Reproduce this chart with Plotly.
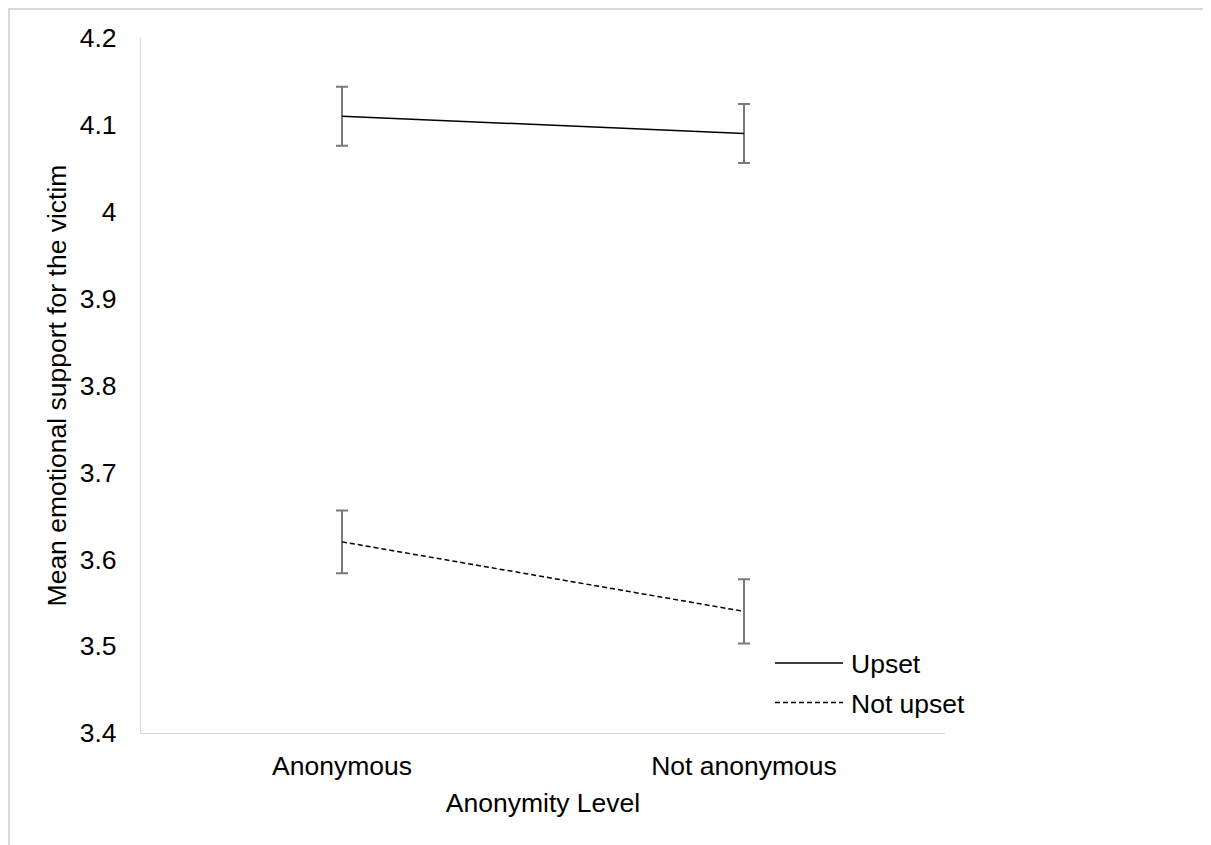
import plotly.graph_objects as go

# ---- data ----
categories = ["Anonymous", "Not anonymous"]
upset_means = [4.11, 4.09]
upset_err = [0.034, 0.034]
not_upset_means = [3.62, 3.54]
not_upset_err = [0.036, 0.037]
series_names = ["Upset", "Not upset"]
y_ticks = [3.4, 3.5, 3.6, 3.7, 3.8, 3.9, 4.0, 4.1, 4.2]

# page has an 8px body margin; figure sits at (8, 8)
OFF = 8
W, H = 1203, 837
ML, MR, MT = 133, 266, 30
MB = round(H - 725.5)
PW, PH = W - ML - MR, H - MT - MB


def px(x):
    return (x - OFF - ML) / PW


def py(y):
    return (H - MB - (y - OFF)) / PH


FONT = "Liberation Sans, Arial, sans-serif"
FS = 26.5
ERR_COLOR = "#7a7a7a"
BORDER = "#d9d9d9"

fig = go.Figure()
fig.add_trace(go.Scatter(
    x=categories, y=upset_means, mode="lines", name=series_names[0],
    line=dict(color="black", width=1.5),
    error_y=dict(type="data", array=upset_err, visible=True,
                 color=ERR_COLOR, thickness=2, width=6),
    showlegend=False,
))
fig.add_trace(go.Scatter(
    x=categories, y=not_upset_means, mode="lines", name=series_names[1],
    line=dict(color="black", width=1.5, dash="5px,3px"),
    error_y=dict(type="data", array=not_upset_err, visible=True,
                 color=ERR_COLOR, thickness=2, width=6),
    showlegend=False,
))

top_y, bot_y = py(9), py(850)
shapes = [
    # outer chart border (top, left, right)
    dict(type="line", xref="paper", yref="paper", layer="below",
         x0=px(8), x1=px(1211), y0=top_y, y1=top_y,
         line=dict(color=BORDER, width=2)),
    dict(type="line", xref="paper", yref="paper", layer="below",
         x0=px(9), x1=px(9), y0=top_y, y1=bot_y,
         line=dict(color=BORDER, width=2)),
    dict(type="line", xref="paper", yref="paper", layer="below",
         x0=px(1210), x1=px(1210), y0=top_y, y1=bot_y,
         line=dict(color=BORDER, width=2)),
    # legend samples
    dict(type="line", xref="paper", yref="paper",
         x0=px(775), x1=px(843), y0=py(663), y1=py(663),
         line=dict(color="black", width=1.5)),
    dict(type="line", xref="paper", yref="paper",
         x0=px(775), x1=px(843), y0=py(702.5), y1=py(702.5),
         line=dict(color="black", width=1.5, dash="5px,3px")),
]
annotations = [
    dict(text=series_names[0], xref="paper", yref="paper", x=px(849), y=py(664),
         xanchor="left", yanchor="middle", showarrow=False,
         font=dict(family=FONT, size=FS, color="black")),
    dict(text=series_names[1], xref="paper", yref="paper", x=px(849), y=py(703.5),
         xanchor="left", yanchor="middle", showarrow=False,
         font=dict(family=FONT, size=FS, color="black")),
]

fig.update_layout(
    width=W, height=H,
    margin=dict(l=ML, r=MR, t=MT, b=MB, pad=0),
    paper_bgcolor="white", plot_bgcolor="white",
    font=dict(family=FONT, size=FS, color="black"),
    shapes=shapes, annotations=annotations,
    showlegend=False,
)
fig.update_xaxes(
    type="category", range=[-0.5, 1.5],
    showline=True, linecolor=BORDER, linewidth=1.3,
    showgrid=False, zeroline=False,
    ticks="outside", ticklen=9, tickcolor="rgba(0,0,0,0)",
    tickfont=dict(family=FONT, size=FS, color="black"),
    title=dict(text="Anonymity Level", standoff=13,
               font=dict(family=FONT, size=FS, color="black")),
)
fig.update_yaxes(
    range=[3.4, 4.2], tickvals=y_ticks,
    ticktext=[f"{v:g}" for v in y_ticks],
    showline=True, linecolor=BORDER, linewidth=1.3,
    showgrid=False, zeroline=False, ticks="outside", ticklen=18,
    tickcolor="rgba(0,0,0,0)",
    tickfont=dict(family=FONT, size=FS, color="black"),
    title=dict(text="Mean emotional support for the victim", standoff=5,
               font=dict(family=FONT, size=FS, color="black")),
)

fig.write_html("out.html")
